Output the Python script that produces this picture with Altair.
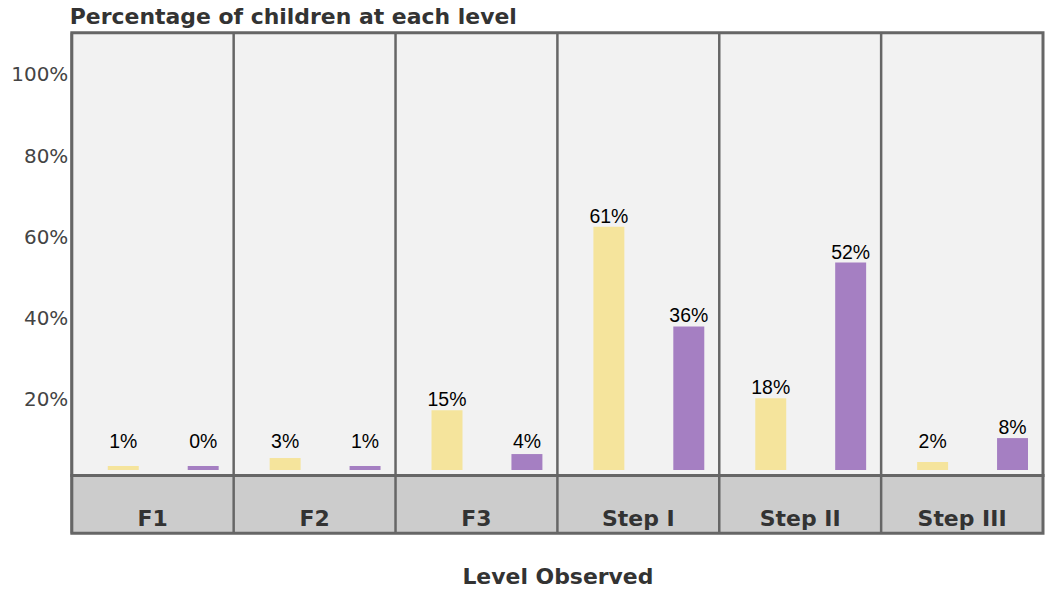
import altair as alt
import pandas as pd

categories = ["F1", "F2", "F3", "Step I", "Step II", "Step III"]
series = ["Group A", "Group B"]
group_a = [1, 3, 15, 61, 18, 2]
group_b = [0, 1, 4, 36, 52, 8]
y_ticks = [20, 40, 60, 80, 100]
colors = ["#F5E49C", "#A57FC2"]

rows = []
for i, c in enumerate(categories):
    rows.append({"level": c, "group": series[0], "pct": group_a[i]})
    rows.append({"level": c, "group": series[1], "pct": group_b[i]})
df = pd.DataFrame(rows)
cat_df = pd.DataFrame({"level": categories})

W = 974
H_TOP = 444
H_BOT = 58

bar_domain = [-1.375, 109.625]
axis_domain = [1.33, 110.4]

band = alt.Scale(paddingInner=0, paddingOuter=0)


def x_enc(**kw):
    return alt.X("level:N", sort=categories, scale=band, axis=None, **kw)


xoff = alt.XOffset(
    "group:N", sort=series,
    scale=alt.Scale(paddingInner=0.6125, paddingOuter=0.319, align=0.706),
)

axis_layer = alt.Chart(df).transform_filter(
    "datum.pct >= 20"
).mark_point(opacity=0, clip=True, size=1).encode(
    x=x_enc(),
    y=alt.Y(
        "pct:Q",
        scale=alt.Scale(domain=axis_domain, nice=False, zero=False),
        axis=alt.Axis(
            orient="left", values=y_ticks, labelExpr="datum.value + '%'",
            ticks=False, domain=False, grid=False, title=None,
            labelFontSize=20, labelFont="DejaVu Sans", labelColor="#444",
            labelPadding=4,
        ),
    ),
)

bars = alt.Chart(df).transform_calculate(
    bar_top="max(datum.pct, 1)"
).mark_bar().encode(
    x=x_enc(),
    xOffset=xoff,
    y=alt.Y("bar_top:Q", scale=alt.Scale(domain=bar_domain, nice=False, zero=False), axis=None),
    y2=alt.datum(0),
    color=alt.Color("group:N", sort=series, scale=alt.Scale(domain=series, range=colors), legend=None),
)

labels = alt.Chart(df).transform_calculate(
    lab_y="max(datum.pct, 4.5)", lab="datum.pct + '%'"
).mark_text(
    font="Liberation Sans", fontSize=19.5, color="#000", baseline="alphabetic", dy=-4
).encode(
    x=x_enc(),
    xOffset=xoff,
    y=alt.Y("lab_y:Q", scale=alt.Scale(domain=bar_domain, nice=False, zero=False), axis=None),
    text="lab:N",
)

dividers = alt.Chart(cat_df).mark_rule(color="#666666", strokeWidth=2.5).encode(
    x=x_enc(bandPosition=0),
)

top = alt.layer(axis_layer, bars, labels, dividers).resolve_scale(
    y="independent"
).properties(
    width=W, height=H_TOP,
    view=alt.ViewBackground(fill="#F2F2F2", stroke="#666666", strokeWidth=3),
    title=alt.TitleParams(
        "Percentage of children at each level", anchor="start", frame="group",
        font="DejaVu Sans", fontSize=22, fontWeight="bold", color="#333333",
        offset=3, dx=-2,
    ),
)

bottom_div = alt.Chart(cat_df).mark_rule(color="#666666", strokeWidth=2.5).encode(
    x=alt.X(
        "level:N", sort=categories, scale=band, bandPosition=0,
        axis=alt.Axis(
            labels=False, ticks=False, domain=False, grid=False,
            title="Level Observed", titleFont="DejaVu Sans", titleFontSize=22,
            titleFontWeight="bold", titleColor="#333333", titlePadding=33,
        ),
    ),
)

bottom_text = alt.Chart(cat_df).mark_text(
    font="DejaVu Sans", fontSize=22, fontWeight="bold", color="#333333",
    baseline="alphabetic", dy=21.5,
).encode(
    x=alt.X("level:N", sort=categories, scale=band),
    text="level:N",
)

bottom = alt.layer(bottom_div, bottom_text).properties(
    width=W, height=H_BOT,
    view=alt.ViewBackground(fill="#CCCCCC", stroke="#666666", strokeWidth=3),
)

chart = alt.vconcat(top, bottom, spacing=0, bounds="flush").properties(
    padding={"left": 9, "top": 3, "right": 0, "bottom": 0},
    background="white",
).configure_view(stroke="#666666", strokeWidth=3)

chart.save("out.html", embed_options={"renderer": "svg", "actions": False})
